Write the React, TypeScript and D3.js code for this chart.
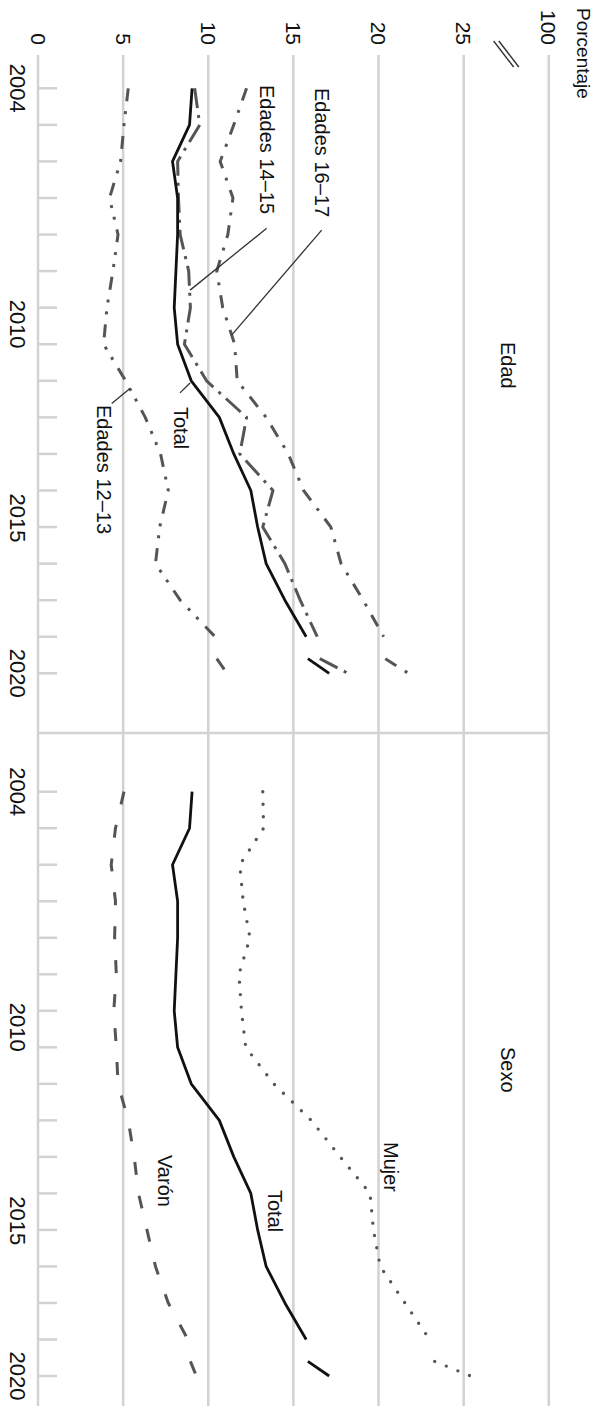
import React from "react";
import * as d3 from "d3";

// ---------- data ----------
const YEARS = [2004, 2005, 2006, 2007, 2008, 2009, 2010, 2011, 2012, 2013, 2014, 2015, 2016, 2017, 2018, 2019];
const NEW_YEARS = [2019.6, 2020];

const TOTAL = [9.05, 8.9, 7.9, 8.2, 8.2, 8.1, 8.0, 8.2, 9.0, 10.65, 11.5, 12.5, 12.9, 13.4, 14.5, 15.75];
const TOTAL_NEW = [15.85, 17.1];

const EDADES_12_13 = [5.3, 5.05, 4.85, 4.2, 4.7, 4.4, 4.05, 3.85, 5.15, 6.3, 7.2, 7.65, 7.15, 6.9, 8.35, 10.4];
const EDADES_12_13_NEW = [10.5, 11.1];

const EDADES_14_15 = [9.2, 9.5, 8.2, 8.25, 8.35, 8.85, 8.95, 8.6, 9.9, 12.25, 11.85, 13.8, 13.2, 14.5, 15.4, 16.4];
const EDADES_14_15_NEW = [16.55, 18.2];

const EDADES_16_17 = [12.25, 11.5, 10.7, 11.45, 11.15, 10.5, 10.85, 11.55, 11.7, 13.4, 14.7, 15.6, 17.2, 17.8, 19.1, 20.3];
const EDADES_16_17_NEW = [20.4, 21.75];

const MUJER = [13.2, 13.25, 11.85, 12.05, 12.45, 11.8, 11.95, 12.2, 13.85, 16.05, 17.75, 19.5, 19.7, 20.1, 21.55, 23.0];
const MUJER_NEW = [23.3, 25.4];

const VARON = [5.05, 4.55, 4.3, 4.55, 4.5, 4.6, 4.45, 4.6, 4.7, 5.3, 5.65, 5.9, 6.4, 6.9, 7.65, 8.8];
const VARON_NEW = [8.95, 9.3];

const PCT_TICKS = [0, 5, 10, 15, 20, 25, 100];
const PCT_LABELS = ["0", "5", "10", "15", "20", "25", "100"];
const YEAR_TICKS = d3.range(2004, 2021);
const YEAR_LABELS = ["2004", "2010", "2015", "2020"];
const YEAR_LABEL_POS = [2004, 2010.45, 2015.75, 2020];

// ---------- layout ----------
const W = 599;
const H = 1406;
const FONT = "'Liberation Sans', Arial, Helvetica, sans-serif";
const GRID = "#d2d2d2";

const x = d3.scaleLinear().domain([0, 30]).range([38, 548.8]);
const pct = (v: number) => x(v === 100 ? 30 : v);
const yEdad = d3.scaleLinear().domain([2004, 2020]).range([88.3, 673.3]);
const ySexo = d3.scaleLinear().domain([2004, 2020]).range([791.7, 1376]);

type Style = { color: string; width: number; dash?: string; cap?: string };

const S_TOTAL: Style = { color: "#111", width: 2.8 };
const S_1213: Style = { color: "#555", width: 3, dash: "13,10,3,9,3,10" };
const S_1415: Style = { color: "#555", width: 3, dash: "20,7,3,7" };
const S_1617: Style = { color: "#555", width: 3, dash: "13,10,3,10" };
const S_MUJER: Style = { color: "#555", width: 3.4, dash: "0,12.5", cap: "round" };
const S_VARON: Style = { color: "#555", width: 3, dash: "13,21" };

function VText(props: { x: number; y: number; anchor?: string; size?: number; children: any; fill?: string }) {
  const { x: px, y: py, anchor = "start", size = 20, children, fill = "#111" } = props;
  return (
    <text
      transform={`translate(${px},${py}) rotate(90)`}
      textAnchor={anchor}
      dominantBaseline="central"
      fontSize={size}
      fontFamily={FONT}
      fill={fill}
    >
      {children}
    </text>
  );
}

function Series(props: { y: any; vals: number[]; neu: number[]; st: Style }) {
  const { y, vals, neu, st } = props;
  const line = d3
    .line<[number, number]>()
    .x((d) => pct(d[1]))
    .y((d) => y(d[0]));
  const a = YEARS.map((yr, i) => [yr, vals[i]] as [number, number]);
  const b = NEW_YEARS.map((yr, i) => [yr, neu[i]] as [number, number]);
  const common = {
    fill: "none",
    stroke: st.color,
    strokeWidth: st.width,
    strokeDasharray: st.dash,
    strokeLinejoin: "round" as const,
    strokeLinecap: (st.cap || "butt") as any,
  };
  return (
    <g>
      <path d={line(a) || ""} {...common} />
      <path d={line(b) || ""} {...common} />
    </g>
  );
}

function Leader(props: { y: any; from: [number, number]; to: [number, number] }) {
  const { y, from, to } = props;
  return (
    <line
      x1={pct(from[1])}
      y1={y(from[0])}
      x2={pct(to[1])}
      y2={y(to[0])}
      stroke="#333"
      strokeWidth={1.3}
    />
  );
}

export default function App() {
  const top = 55;
  const divider = 733;
  return (
    <svg
      width={W}
      height={H}
      viewBox={`0 0 ${W} ${H}`}
      style={{ position: "absolute", left: 0, top: 0, background: "#fff" }}
    >
      <rect x={0} y={0} width={W} height={H} fill="#fff" />

      {/* gridlines */}
      {PCT_TICKS.map((v) => (
        <line key={"g" + v} x1={pct(v)} x2={pct(v)} y1={top} y2={H} stroke={GRID} strokeWidth={v === 0 ? 2.5 : 2.5} />
      ))}
      {/* panel divider */}
      <line x1={pct(0)} x2={pct(100)} y1={divider} y2={divider} stroke={GRID} strokeWidth={2.5} />

      {/* year ticks */}
      {[yEdad, ySexo].map((ys, k) =>
        YEAR_TICKS.map((yr) => (
          <line key={"t" + k + yr} x1={pct(0)} x2={pct(0) + 19} y1={ys(yr)} y2={ys(yr)} stroke={GRID} strokeWidth={2.5} />
        ))
      )}

      {/* year labels */}
      {[yEdad, ySexo].map((ys, k) =>
        YEAR_LABELS.map((lab, i) => (
          <VText key={"yl" + k + lab} x={17.5} y={ys(YEAR_LABEL_POS[i])} anchor="middle" size={22}>
            {lab}
          </VText>
        ))
      )}

      {/* percent labels */}
      {PCT_TICKS.map((v, i) => (
        <VText key={"pl" + v} x={pct(v)} y={45} anchor="end" size={21}>
          {PCT_LABELS[i]}
        </VText>
      ))}
      <VText x={583} y={8} anchor="start" size={19}>
        Porcentaje
      </VText>

      {/* axis break */}
      {[-2.6, 2.6].map((o, i) => (
        <line
          key={"br" + i}
          x1={(pct(25) + pct(100)) / 2 + o - 10}
          y1={41}
          x2={(pct(25) + pct(100)) / 2 + o + 10}
          y2={67}
          stroke="#333"
          strokeWidth={1.4}
        />
      ))}

      {/* Panel Edad */}
      <Series y={yEdad} vals={EDADES_12_13} neu={EDADES_12_13_NEW} st={S_1213} />
      <Series y={yEdad} vals={EDADES_16_17} neu={EDADES_16_17_NEW} st={S_1617} />
      <Series y={yEdad} vals={EDADES_14_15} neu={EDADES_14_15_NEW} st={S_1415} />
      <Series y={yEdad} vals={TOTAL} neu={TOTAL_NEW} st={S_TOTAL} />

      <VText x={508} y={342}>Edad</VText>
      <VText x={322} y={88}>Edades 16–17</VText>
      <VText x={267} y={85}>Edades 14–15</VText>
      <VText x={181} y={407}>Total</VText>
      <VText x={104} y={405}>Edades 12–13</VText>
      <Leader y={yEdad} from={[2007.83, 13.43]} to={[2009.52, 8.93]} />
      <Leader y={yEdad} from={[2007.88, 16.66]} to={[2010.75, 11.37]} />
      <Leader y={yEdad} from={[2012.33, 8.34]} to={[2012.06, 8.93]} />
      <Leader y={yEdad} from={[2012.62, 4.33]} to={[2012.21, 5.4]} />

      {/* Panel Sexo */}
      <Series y={ySexo} vals={VARON} neu={VARON_NEW} st={S_VARON} />
      <Series y={ySexo} vals={MUJER} neu={MUJER_NEW} st={S_MUJER} />
      <Series y={ySexo} vals={TOTAL} neu={TOTAL_NEW} st={S_TOTAL} />

      <VText x={508} y={1047}>Sexo</VText>
      <VText x={391} y={1142}>Mujer</VText>
      <VText x={275} y={1190}>Total</VText>
      <VText x={165} y={1155}>Varón</VText>
    </svg>
  );
}
